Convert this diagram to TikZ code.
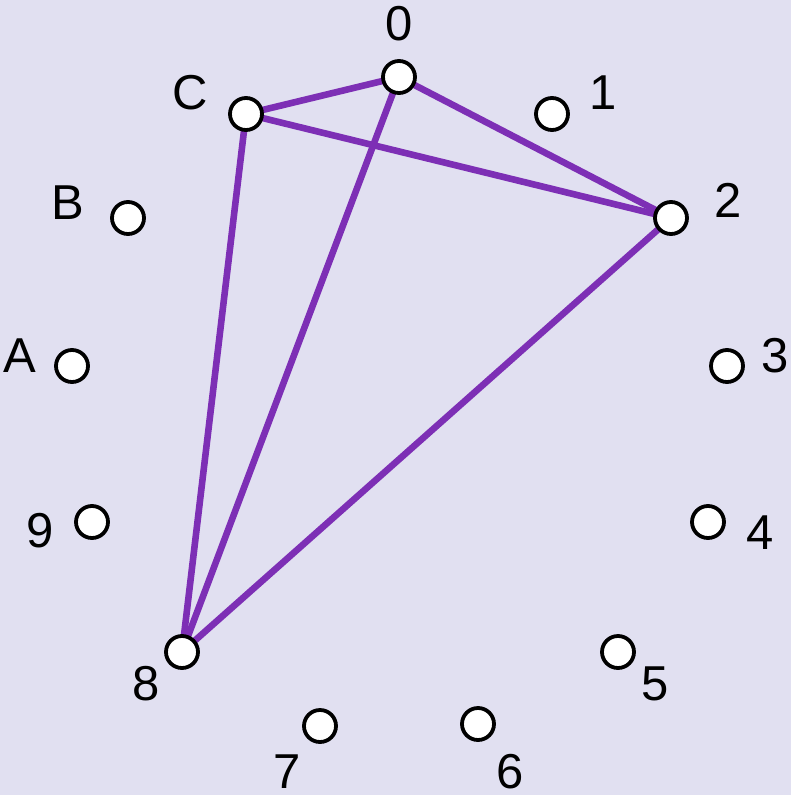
\documentclass[tikz,border=0pt]{standalone}
\usepackage{fontspec}
\setmainfont{Liberation Sans}
\definecolor{bg}{HTML}{E1E0F1}
\definecolor{edgec}{HTML}{7D2FB5}
\tikzset{
  pt/.style={circle, draw=black, fill=white, line width=3.8pt, minimum size=32pt, inner sep=0pt},
  lab/.style={font=\fontsize{49}{49}\selectfont, inner sep=0pt, text height=35pt, text depth=0pt, anchor=center},
  edge/.style={draw=edgec, line width=6.6pt}
}
\begin{document}
\begin{tikzpicture}[x=1pt,y=-1pt]
\fill[bg] (0,0) rectangle (791,795);
\useasboundingbox (0,0) rectangle (791,795);
\coordinate (p0) at (399,77);
\coordinate (p1) at (552,114);
\coordinate (p2) at (671,218);
\coordinate (p3) at (727,366);
\coordinate (p4) at (708,522);
\coordinate (p5) at (618,652);
\coordinate (p6) at (478,724);
\coordinate (p7) at (320,726);
\coordinate (p8) at (182,652);
\coordinate (p9) at (92,522);
\coordinate (pA) at (72,366);
\coordinate (pB) at (128,218);
\coordinate (pC) at (246,114);
\draw[edge] (pC) -- (p0);
\draw[edge] (p0) -- (p2);
\draw[edge] (pC) -- (p2);
\draw[edge] (pC) -- (p8);
\draw[edge] (p0) -- (p8);
\draw[edge] (p2) -- (p8);
\foreach \n in {0,1,2,3,4,5,6,7,8,9,A,B,C} {\node[pt] (n\n) at (p\n) {};}
\node[lab] (l0) at (399,23) {0};
\node[lab] (l1) at (603,92) {1};
\node[lab] (l2) at (728,200) {2};
\node[lab] (l3) at (775,355) {3};
\node[lab] (l4) at (760,532) {4};
\node[lab] (l5) at (655,683) {5};
\node[lab] (l6) at (510,771) {6};
\node[lab] (l7) at (287,771) {7};
\node[lab] (l8) at (146,683) {8};
\node[lab] (l9) at (40,530) {9};
\node[lab] (lA) at (20,355) {A};
\node[lab] (lB) at (68,202) {B};
\node[lab] (lC) at (190,92) {C};
\end{tikzpicture}
\end{document}
